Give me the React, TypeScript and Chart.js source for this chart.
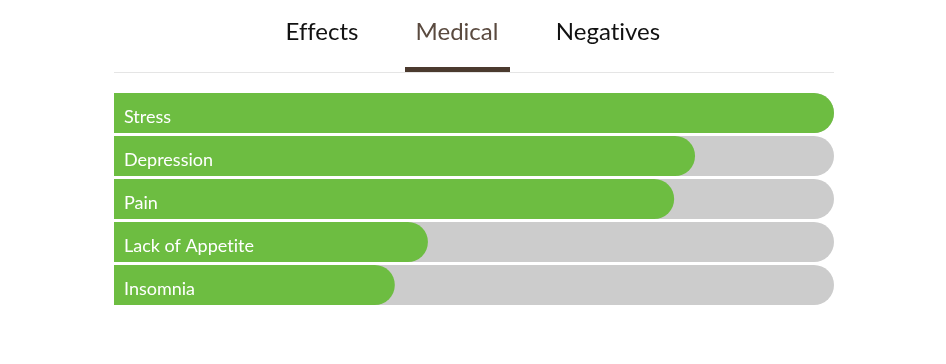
import React, { useEffect, useRef } from "react";
import { Chart, registerables } from "chart.js";

Chart.register(...registerables);

const categories = ["Stress", "Depression", "Pain", "Lack of Appetite", "Insomnia"];
const values = [100, 80.7, 77.8, 43.6, 39.0];
const maxValues = [100, 100, 100, 100, 100];
const tabs = ["Effects", "Medical", "Negatives"];
const activeTab = "Medical";

const tabCenters = [322, 457, 608];

const labelPlugin = {
  id: "barLabels",
  afterDatasetsDraw(chart: any) {
    const { ctx, chartArea } = chart;
    const meta = chart.getDatasetMeta(1);
    ctx.save();
    ctx.fillStyle = "#ffffff";
    ctx.font = "18px Lato, 'Open Sans', sans-serif";
    try {
      (ctx as any).textRendering = "optimizeSpeed";
    } catch (e) {}
    ctx.textBaseline = "alphabetic";
    ctx.textAlign = "left";
    meta.data.forEach((bar: any, i: number) => {
      ctx.fillText(categories[i], chartArea.left + 10, bar.y + 10);
    });
    ctx.restore();
  },
};

export default function App() {
  const ref = useRef<HTMLCanvasElement>(null);
  useEffect(() => {
    if (!ref.current) return;
    const chart = new Chart(ref.current, {
      type: "bar",
      data: {
        labels: categories,
        datasets: [
          {
            data: maxValues,
            backgroundColor: "#cccccc",
            borderRadius: 20,
            borderSkipped: "start",
            categoryPercentage: 1,
            barPercentage: 40 / 43,
            order: 2,
          },
          {
            data: values,
            backgroundColor: "#6dbd41",
            borderRadius: 20,
            borderSkipped: "start",
            categoryPercentage: 1,
            barPercentage: 40 / 43,
            order: 1,
          },
        ],
      },
      options: {
        indexAxis: "y",
        animation: false,
        responsive: false,
        maintainAspectRatio: false,
        layout: { padding: { left: 114, right: 112, top: 91.5, bottom: 57.5 } },
        plugins: { legend: { display: false }, tooltip: { enabled: false } },
        scales: {
          x: { display: false, min: 0, max: 100 },
          y: { display: false, stacked: false },
        },
        datasets: { bar: { grouped: false } },
      } as any,
      plugins: [labelPlugin],
    });
    return () => chart.destroy();
  }, []);

  return (
    <div style={{ position: "fixed", left: 0, top: 0, width: 946, height: 364, background: "#fff" }}>
      <canvas ref={ref} width={946} height={364} style={{ position: "absolute", left: 0, top: 0 }} />
      <div style={{ position: "absolute", left: 114, top: 72, width: 720, height: 1, background: "#e5e5e5" }} />
      {tabs.map((t, i) => (
        <div
          key={t}
          style={{
            position: "absolute",
            left: tabCenters[i],
            top: 15,
            transform: "translateX(-50%)",
            fontFamily: "Lato, 'Open Sans', sans-serif",
            fontSize: 24,
            lineHeight: "32px",
            whiteSpace: "nowrap",
            fontVariantLigatures: "none",
            color: t === activeTab ? "#5a4a3f" : "#111111",
          }}
        >
          {t}
        </div>
      ))}
      <div style={{ position: "absolute", left: 405, top: 67, width: 105, height: 5, background: "#4b3a2e" }} />
    </div>
  );
}
